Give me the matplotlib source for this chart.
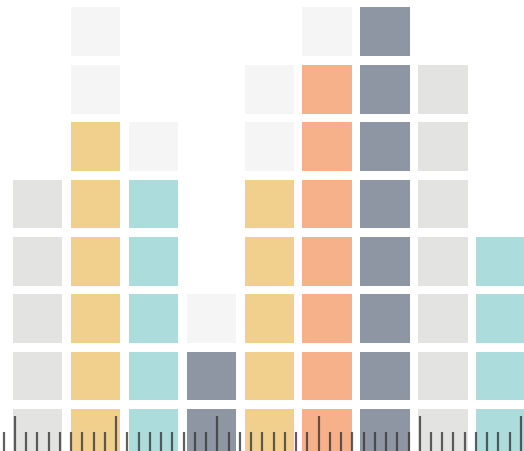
import matplotlib
matplotlib.use("Agg")
import matplotlib.pyplot as plt
from matplotlib.ticker import MultipleLocator

# squares per column (bottom up): filled ones, then pale "empty" ones on top
filled = [5, 6, 5, 2, 5, 7, 8, 7, 4]
empty = [0, 2, 1, 1, 2, 1, 0, 0, 0]
colors = ["#e3e3e1", "#f1d08e", "#acdcdb", "#8f96a3", "#f1d08e",
          "#f6b18b", "#8f96a3", "#e3e3e1", "#acdcdb"]
empty_color = "#f5f5f6"

fig = plt.figure(figsize=(5.24, 4.52), dpi=100)
ax = fig.add_axes([0, 0, 1, 1])
ax.set_xlim(-0.648, 8.40)
ax.set_ylim(-0.305, 7.57)
ax.axis("off")

size = 0.85
for i in range(len(filled)):
    for j in range(filled[i] + empty[i]):
        c = colors[i] if j < filled[i] else empty_color
        ax.bar(i, size, bottom=j - size / 2, width=size, color=c, linewidth=0)

# ruler ticks along the bottom edge
ax2 = fig.add_axes([0, 0, 1, 1], facecolor="none")
ax2.set_xlim(-0.148, 5.03)
ax2.set_ylim(0, 1)
ax2.xaxis.set_major_locator(MultipleLocator(1))
ax2.xaxis.set_minor_locator(MultipleLocator(1 / 9))
ax2.tick_params(axis="x", which="major", direction="in", length=25, width=1.6,
                color=(0.22, 0.22, 0.22, 0.8), labelbottom=False)
ax2.tick_params(axis="x", which="minor", direction="in", length=14, width=1.6,
                color=(0.22, 0.22, 0.22, 0.8))
ax2.set_yticks([])
for s in ax2.spines.values():
    s.set_visible(False)

fig.savefig("out.png", dpi=100)
